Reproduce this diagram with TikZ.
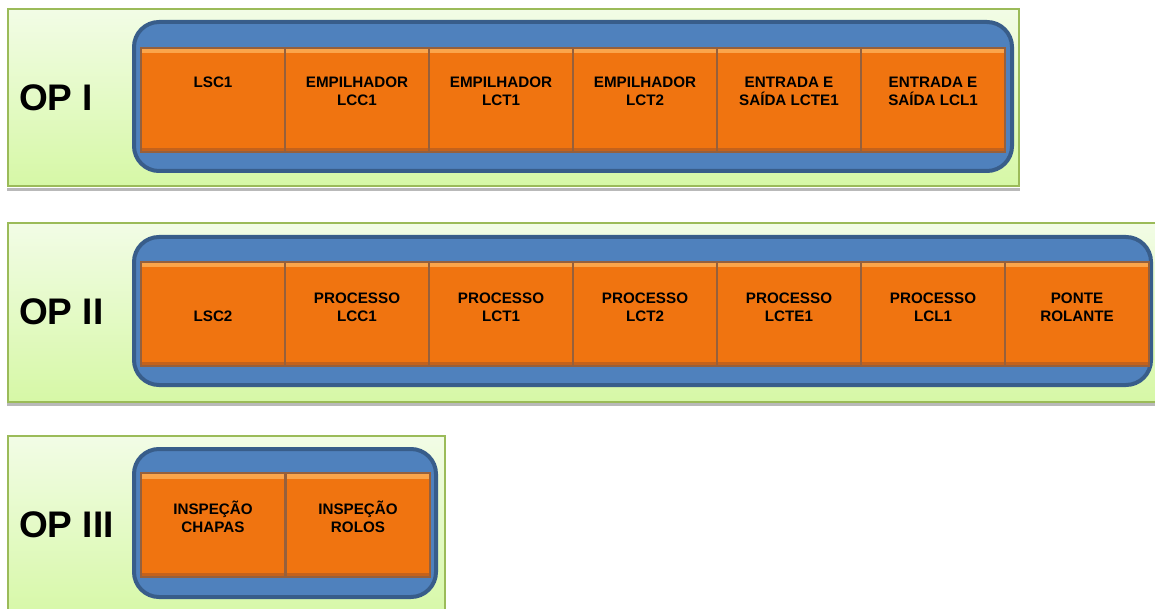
\documentclass[tikz,border=0pt]{standalone}
\usepackage{fontspec}
\setmainfont{Liberation Sans}
\usetikzlibrary{positioning}

\definecolor{verdeclaro}{RGB}{242,252,230}
\definecolor{verdefundo}{RGB}{214,248,166}
\definecolor{verdeborda}{RGB}{155,187,89}
\definecolor{azulfaixa}{RGB}{79,129,189}
\definecolor{azulborda}{RGB}{56,93,138}
\definecolor{laranja}{RGB}{240,116,16}
\definecolor{laranjaclaro}{RGB}{251,166,76}
\definecolor{laranjaescuro}{RGB}{196,98,28}
\definecolor{divisoria}{RGB}{150,96,60}

\tikzset{
  painel/.style={draw=verdeborda, line width=2pt, top color=verdeclaro, bottom color=verdefundo},
  sombra/.style={fill=gray!55},
  faixa/.style={draw=azulborda, fill=azulfaixa, line width=4pt, rounded corners=25pt},
  caixa/.style={draw=divisoria, line width=1.2pt, fill=laranja, minimum width=144pt,
    minimum height=104pt, inner sep=0pt, outer sep=0pt, anchor=north west,
    path picture={
      \fill[top color=laranjaclaro, bottom color=laranja]
        (path picture bounding box.north west) rectangle ([yshift=-5pt]path picture bounding box.north east);
      \fill[laranjaescuro]
        (path picture bounding box.south west) rectangle ([yshift=4pt]path picture bounding box.south east);
    }},
  rotulo/.style={font=\bfseries\fontsize{15.2}{18}\selectfont, align=center, inner sep=0pt, anchor=base},
  titulo/.style={font=\bfseries\fontsize{37}{40}\selectfont, inner sep=0pt, anchor=base west}
}

\begin{document}
\begin{tikzpicture}[x=1pt, y=-1pt]
\useasboundingbox (0,0) rectangle (1155,609);
\clip (0,0) rectangle (1155,609);

% OP I
\fill[sombra] (7,188) rectangle (1020,191);
\draw[painel] (8,9) rectangle (1019,186);
\draw[faixa] (134,22) rectangle (1012,171);
\node[titulo] (opI) at (19,111) {OP I};
\foreach \txt/\dy [count=\i from 0] in {LSC1/40, {EMPILHADOR\\LCC1}/58, {EMPILHADOR\\LCT1}/58,
    {EMPILHADOR\\LCT2}/58, {ENTRADA E\\SAÍDA LCTE1}/58, {ENTRADA E\\SAÍDA LCL1}/58}{
  \node[caixa] (opIb\i) at (141+144*\i,48) {};
  \node[rotulo] (opIt\i) at ([yshift=-\dy pt]opIb\i.north) {\txt};
}

% OP II
\fill[sombra] (7,403) rectangle (1160,406);
\draw[painel] (8,223) rectangle (1165,402);
\draw[faixa] (134,237) rectangle (1151,385);
\node[titulo] (opII) at (19,324) {OP II};
\foreach \txt [count=\i from 0] in {LSC2, {PROCESSO\\LCC1}, {PROCESSO\\LCT1},
    {PROCESSO\\LCT2}, {PROCESSO\\LCTE1}, {PROCESSO\\LCL1}, {PONTE\\ROLANTE}}{
  \node[caixa] (opIIb\i) at (141+144*\i,262) {};
  \node[rotulo] (opIIt\i) at ([yshift=-59pt]opIIb\i.north) {\txt};
}

% OP III
\draw[painel] (8,436) rectangle (445,620);
\draw[faixa] (134,449) rectangle (436,597);
\node[titulo] (opIII) at (19,537) {OP III};
\foreach \txt [count=\i from 0] in {{INSPEÇÃO\\CHAPAS}, {INSPEÇÃO\\ROLOS}}{
  \node[caixa] (opIIIb\i) at (141+145*\i,473) {};
  \node[rotulo] (opIIIt\i) at ([yshift=-59pt]opIIIb\i.north) {\txt};
}
\end{tikzpicture}
\end{document}
